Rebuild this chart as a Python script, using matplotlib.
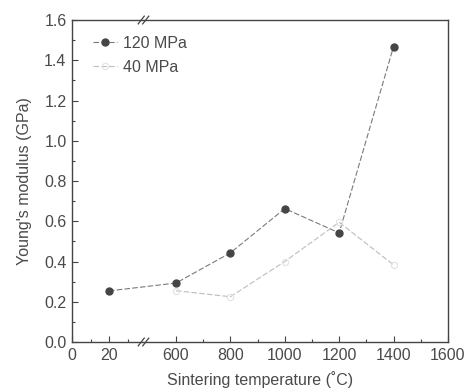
import numpy as np
import matplotlib
matplotlib.use('Agg')
import matplotlib.pyplot as plt

plt.rcParams['font.family'] = ['Liberation Sans', 'DejaVu Sans']

# dados
temp_120 = [20, 600, 800, 1000, 1200, 1400]
mod_120 = [0.254, 0.293, 0.443, 0.663, 0.542, 1.468]
temp_40 = [600, 800, 1000, 1200, 1400]
mod_40 = [0.255, 0.225, 0.400, 0.595, 0.383]

xticks = [0, 20, 600, 800, 1000, 1200, 1400, 1600]
xminor = [10, 30, 700, 900, 1100, 1300, 1500]
yticks = [0.0, 0.2, 0.4, 0.6, 0.8, 1.0, 1.2, 1.4, 1.6]

# eixo quebrado: escala por partes
xp = [0, 40, 500, 1600]
up = [0, 74, 76.8, 376]

def fwd(x):
    return np.interp(x, xp, up)

def inv(u):
    return np.interp(u, up, xp)

cinza = '#4a4a4a'
fs = 11.5
fig = plt.figure(figsize=(4.71, 3.91), dpi=100)
ax = fig.add_axes([0.153, 0.1253, 0.798, 0.8235])
ax.set_xscale('function', functions=(fwd, inv))

ax.plot(temp_120, mod_120, linestyle=(0, (5, 2)), color='#7a7a7a', lw=0.8,
        marker='o', ms=5, mfc='#454545', mec='#454545', label='120 MPa')
ax.plot(temp_40, mod_40, linestyle=(0, (5, 2)), color='#bdbdbd', lw=0.8,
        marker='o', ms=4.5, mfc='none', mec='#e2e2e2', mew=0.8, label='40 MPa')

ax.set_xlim(0, 1600)
ax.set_ylim(0, 1.6)
ax.set_xticks(xticks)
ax.set_xticklabels([str(t) for t in xticks])
ax.set_xticks(xminor, minor=True)
ax.set_yticks(yticks)
ax.set_yticklabels(['%.1f' % t for t in yticks])
ax.set_yticks(np.arange(0.1, 1.6, 0.2), minor=True)

ax.tick_params(which='both', direction='in', top=False, right=False,
               colors='#444444', labelcolor=cinza, labelsize=fs)
ax.tick_params(which='major', length=4, width=0.8, pad=4)
ax.tick_params(which='minor', length=2, width=0.8)
for s in ax.spines.values():
    s.set_color('#444444')
    s.set_linewidth(1.0)

ax.set_xlabel('Sintering temperature (\u02daC)', color=cinza, fontsize=fs, labelpad=6)
ax.set_ylabel("Young's modulus (GPa)", color=cinza, fontsize=fs, labelpad=9)

# marcas de quebra do eixo
for yb in (0.0, 1.0):
    for dx in (-0.006, 0.006):
        xc = 0.19 + dx
        ax.plot([xc - 0.008, xc + 0.008], [yb - 0.012, yb + 0.012],
                transform=ax.transAxes, color='#444444', lw=0.9, clip_on=False)

leg = ax.legend(loc='upper left', frameon=False, fontsize=fs,
                handlelength=1.5, handletextpad=0.4, borderaxespad=0.3,
                labelspacing=0.55, bbox_to_anchor=(0.025, 0.985))
for t in leg.get_texts():
    t.set_color(cinza)

plt.savefig('out.png', dpi=100)
